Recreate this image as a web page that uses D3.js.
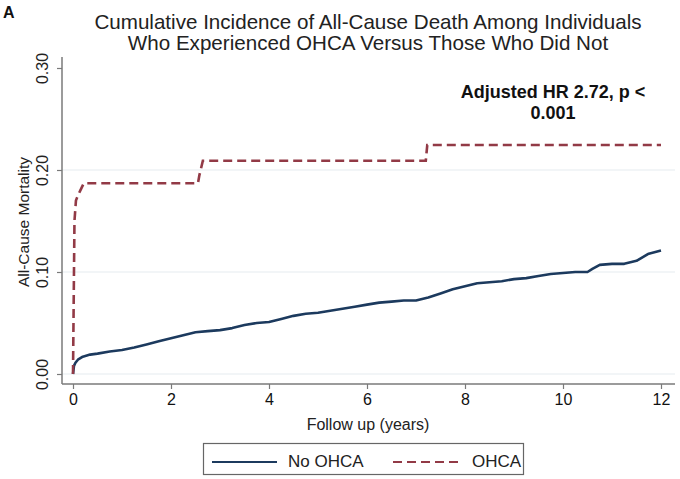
<!DOCTYPE html>
<html><head><meta charset="utf-8">
<script src="https://cdn.jsdelivr.net/npm/d3@7"></script>
<style>
html,body{margin:0;padding:0;background:#fff;}
svg{display:block;font-family:"Liberation Sans",Arial,Helvetica,sans-serif;}
</style></head>
<body><svg id="c" width="680" height="479"></svg>
<script>
// ---- data ----
const xTicks = [0, 2, 4, 6, 8, 10, 12];
const yTicks = [0.00, 0.10, 0.20, 0.30];
const yTickLabels = ["0.00", "0.10", "0.20", "0.30"];
const gridValues = [0.00, 0.10, 0.20];
const seriesNames = ["No OHCA", "OHCA"];

const noOhcaTime = [0, 0.02, 0.05, 0.1, 0.2, 0.35, 0.5, 0.75, 1.0, 1.25, 1.5, 1.75, 2.0, 2.25, 2.5, 2.75, 3.0, 3.25, 3.5, 3.75, 4.0, 4.25, 4.5, 4.75, 5.0, 5.25, 5.5, 5.75, 6.0, 6.25, 6.5, 6.75, 7.0, 7.25, 7.5, 7.75, 8.0, 8.25, 8.5, 8.75, 9.0, 9.25, 9.5, 9.75, 10.0, 10.25, 10.5, 10.6, 10.75, 11.0, 11.25, 11.5, 11.75, 12.0];
const noOhcaRisk = [0, 0.008, 0.011, 0.014, 0.017, 0.019, 0.020, 0.022, 0.0235, 0.026, 0.029, 0.032, 0.035, 0.038, 0.041, 0.042, 0.043, 0.045, 0.048, 0.050, 0.051, 0.054, 0.057, 0.059, 0.060, 0.062, 0.064, 0.066, 0.068, 0.070, 0.071, 0.072, 0.072, 0.075, 0.079, 0.083, 0.086, 0.089, 0.090, 0.091, 0.093, 0.094, 0.096, 0.098, 0.099, 0.100, 0.100, 0.103, 0.107, 0.108, 0.108, 0.111, 0.118, 0.121];

const ohcaTime = [0, 0.01, 0.02, 0.03, 0.06, 0.1, 0.15, 0.22, 2.55, 2.58, 2.65, 7.2, 7.23, 12.0];
const ohcaRisk = [0, 0.05, 0.10, 0.15, 0.17, 0.175, 0.18, 0.187, 0.187, 0.195, 0.209, 0.209, 0.2245, 0.2245];

const annotationLines = ["Adjusted HR 2.72, p <", "0.001"];
const titleLines = ["Cumulative Incidence of All-Cause Death Among Individuals", "Who Experienced OHCA Versus Those Who Did Not"];

// ---- layout ----
const svg = d3.select("#c");
const x = d3.scaleLinear().domain([0, 12]).range([73, 661]);
const y = d3.scaleLinear().domain([0, 0.30]).range([374, 68]);
const axisX = 62, axisY = 384, plotRight = 675, plotTop = 57;
const navy = "#1c3a5e", maroon = "#923a46", axisCol = "#7a7a7a";

// panel letter
svg.append("text").attr("x", 3).attr("y", 18).attr("font-size", 16).attr("font-weight", "bold").attr("fill", "#111").text("A");

// title
svg.selectAll("text.title").data(titleLines).join("text")
  .attr("class", "title").attr("x", 368).attr("y", (d, i) => 29 + i * 21)
  .attr("text-anchor", "middle").attr("font-size", 20.6).attr("fill", "#222").text(d => d);

// gridlines
svg.selectAll("line.grid").data(gridValues).join("line")
  .attr("class", "grid").attr("x1", axisX).attr("x2", plotRight)
  .attr("y1", d => y(d)).attr("y2", d => y(d))
  .attr("stroke", "#e6ecef").attr("stroke-width", 1.2);

// y axis
const yAxis = d3.axisLeft(y).tickValues(yTicks).tickSize(5).tickFormat((d, i) => yTickLabels[i]);
const gy = svg.append("g").attr("transform", `translate(${axisX},0)`).call(yAxis);
gy.select(".domain").remove();
gy.append("line").attr("x1", 0).attr("x2", 0).attr("y1", plotTop).attr("y2", axisY).attr("stroke", axisCol).attr("stroke-width", 1.5);
gy.selectAll(".tick line").attr("stroke", axisCol).attr("stroke-width", 1.2);
gy.selectAll(".tick text")
  .attr("x", null).attr("dy", null)
  .attr("transform", "translate(-14,0) rotate(-90)")
  .attr("text-anchor", "middle").attr("font-size", 16).attr("fill", "#222")
  .attr("font-family", "Liberation Sans, Arial, sans-serif");

// x axis
const xAxis = d3.axisBottom(x).tickValues(xTicks).tickSize(5).tickFormat(d3.format("d"));
const gx = svg.append("g").attr("transform", `translate(0,${axisY})`).call(xAxis);
gx.select(".domain").remove();
gx.append("line").attr("x1", axisX).attr("x2", plotRight).attr("y1", 0).attr("y2", 0).attr("stroke", axisCol).attr("stroke-width", 1.5);
gx.selectAll(".tick line").attr("stroke", axisCol).attr("stroke-width", 1.2);
gx.selectAll(".tick text").attr("y", 10).attr("dy", "0.71em").attr("font-size", 16).attr("fill", "#111")
  .attr("font-family", "Liberation Sans, Arial, sans-serif");

// axis titles
svg.append("text").attr("x", 368).attr("y", 430).attr("text-anchor", "middle").attr("font-size", 16).attr("fill", "#222").text("Follow up (years)");
svg.append("text").attr("transform", "translate(29,222) rotate(-90)").attr("text-anchor", "middle").attr("font-size", 15.5).attr("fill", "#222").text("All-Cause Mortality");

// lines
const line = d3.line().x(d => x(d[0])).y(d => y(d[1]));
const noOhca = noOhcaTime.map((t, i) => [t, noOhcaRisk[i]]);
const ohca = ohcaTime.map((t, i) => [t, ohcaRisk[i]]);
svg.append("path").datum(noOhca).attr("d", line).attr("fill", "none").attr("stroke", navy).attr("stroke-width", 2.6).attr("stroke-linejoin", "round");
svg.append("path").datum(ohca).attr("d", line).attr("fill", "none").attr("stroke", maroon).attr("stroke-width", 2.6).attr("stroke-dasharray", "9,5");

// annotation
svg.selectAll("text.ann").data(annotationLines).join("text")
  .attr("class", "ann").attr("x", 553).attr("y", (d, i) => 98 + i * 21)
  .attr("text-anchor", "middle").attr("font-size", 18).attr("font-weight", "bold").attr("fill", "#111").text(d => d);

// legend
const lg = svg.append("g");
lg.append("rect").attr("x", 203.5).attr("y", 443.5).attr("width", 320).attr("height", 31).attr("fill", "#fff").attr("stroke", "#666").attr("stroke-width", 1.2);
lg.append("line").attr("x1", 212).attr("x2", 277).attr("y1", 462).attr("y2", 462).attr("stroke", navy).attr("stroke-width", 2.2);
lg.append("text").attr("x", 288).attr("y", 467).attr("font-size", 17).attr("fill", "#222").text(seriesNames[0]);
lg.append("line").attr("x1", 393).attr("x2", 460).attr("y1", 462).attr("y2", 462).attr("stroke", maroon).attr("stroke-width", 2.2).attr("stroke-dasharray", "9,5");
lg.append("text").attr("x", 472).attr("y", 467).attr("font-size", 17).attr("fill", "#222").text(seriesNames[1]);
</script></body></html>
